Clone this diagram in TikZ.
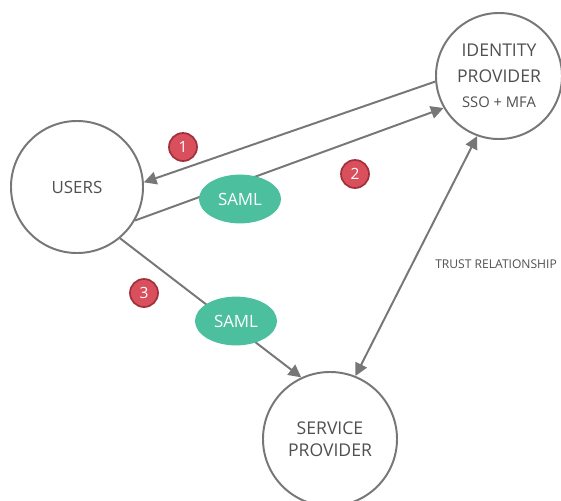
\documentclass[tikz,border=0pt]{standalone}
\usepackage{fontspec}
\setmainfont{Open Sans}
\usepackage{tikz}
\usetikzlibrary{arrows.meta, positioning, shapes.geometric}
\usepackage{xcolor}
\definecolor{linegray}{HTML}{777777}
\definecolor{textgray}{HTML}{505050}
\definecolor{samlgreen}{HTML}{4CBF9F}
\definecolor{badgered}{HTML}{D9505C}
\definecolor{badgeborder}{HTML}{A0303C}
\tikzset{%
	party/.style={
		circle,
		draw=linegray,
		line width=1.4pt,
		fill=white,
		text=textgray,
		align=center,
		font=\fontsize{12.5}{18}\selectfont
	},
	saml/.style={
		ellipse,
		fill=samlgreen,
		text=white,
		minimum width=2.05cm,
		minimum height=1.22cm,
		font=\fontsize{12}{14}\selectfont
	},
	badge/.style={
		circle,
		fill=badgered,
		draw=badgeborder,
		line width=1.2pt,
		text=white,
		minimum size=0.7cm,
		inner sep=0pt,
		font=\fontsize{11}{12}\selectfont
	},
	flow/.style={
		draw=linegray,
		line width=1.4pt,
		-{Triangle[length=9pt,width=9pt]}
	},
}

\begin{document}
\begin{tikzpicture}[x=0.025cm,y=-0.025cm]
			\useasboundingbox (0,0) rectangle (561,501);
			
			% Draw the three parties
			\node[party, minimum size=3.3cm, font=\fontsize{12}{18}\selectfont] (users) at (77,187) {USERS};
			\node[party, minimum size=3.15cm] (idp) at (499,76)
				{IDENTITY\\PROVIDER\\{\fontsize{10.5}{12}\selectfont SSO + MFA}};
			\node[party, minimum size=3.35cm, font=\fontsize{12.5}{16}\selectfont] (sp) at (330,439)
				{SERVICE\\PROVIDER};
			
			% Draw arrows between the parties
			\draw[flow] (idp.185) -- (users.4);
			\draw[flow] (users.-30) -- (idp.210);
			\draw[flow] (users.-50) -- (sp.115);
			\draw[flow, {Triangle[length=9pt,width=9pt]}-{Triangle[length=9pt,width=9pt]}] (sp.68) -- (idp.250);
			
			% Draw the SAML tokens on the arrows
			\node[saml] (saml1) at (240,199) {SAML};
			\node[saml] (saml2) at (236,321) {SAML};
			
			% Draw the step numbers
			\node[badge] (b1) at (183,147) {1};
			\node[badge] (b2) at (355,174) {2};
			\node[badge] (b3) at (144,293) {3};
			
			\node[text=textgray, anchor=west, inner sep=0pt, font=\fontsize{8.6}{10}\selectfont] (trust) at (435,264)
				{TRUST RELATIONSHIP};
			
		\end{tikzpicture}
\end{document}
